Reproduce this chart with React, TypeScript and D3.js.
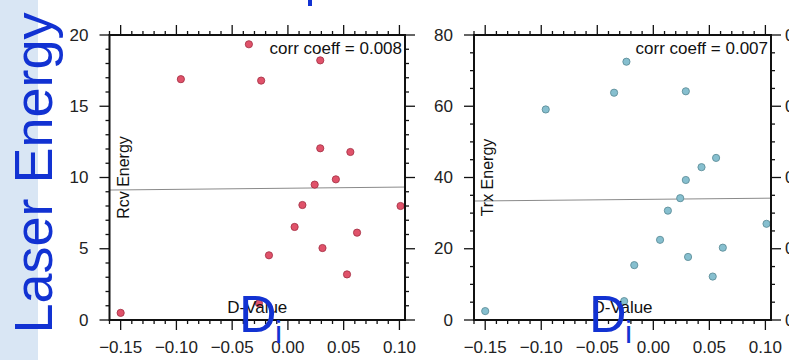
import React from 'react';
import * as d3 from 'd3';

// D-value of each sample (shared by both panels)
const dValues = [-0.15, -0.096, -0.035, -0.026, -0.024, -0.017, 0.006, 0.013, 0.024, 0.029, 0.029, 0.031, 0.043, 0.053, 0.056, 0.062, 0.101];
// receive / transmit laser energy for the same samples
const rcvEnergy = [0.5, 16.9, 19.35, 1.17, 16.8, 4.54, 6.53, 8.07, 9.5, 18.22, 12.05, 5.05, 9.87, 3.2, 11.79, 6.13, 8.0];
const trxEnergy = [2.5, 59.1, 63.8, 5.3, 72.5, 15.4, 22.5, 30.7, 34.2, 64.2, 39.3, 17.7, 42.9, 12.2, 45.5, 20.3, 27.0];

// fitted line values at the two ends of the x range
const rcvFit = [9.12, 9.33];
const trxFit = [33.4, 34.2];

const xDomain = [-0.16, 0.105];
const xTicks = [-0.15, -0.1, -0.05, 0, 0.05, 0.1];
const rcvTicks = [0, 5, 10, 15, 20];
const trxTicks = [0, 20, 40, 60, 80];

const W = 789;
const H = 360;
const FONT = '"Liberation Sans", Arial, Helvetica, sans-serif';
const BLUE = '#1232d2';
const TOP = 35;
const BOTTOM = 320;
const MAJ = 10;
const MIN = 4;

const fmtX = d3.format('.2f');

function Panel({ left, right, values, fit, yMax, yTicks, minorStep, yLabel, corr, fill, stroke }) {
  const x = d3.scaleLinear().domain(xDomain).range([left, right]);
  const y = d3.scaleLinear().domain([0, yMax]).range([BOTTOM, TOP]);

  const minorX = d3.range(-16, 11).map(i => i / 100);
  const minorY = d3.range(0, yMax + minorStep / 2, minorStep);
  const isMajorX = v => xTicks.some(t => Math.abs(t - v) < 1e-6);
  const isMajorY = v => yTicks.some(t => Math.abs(t - v) < 1e-6);

  return (
    <g>
      {/* fitted line */}
      <line x1={x(xDomain[0])} x2={x(xDomain[1])} y1={y(fit[0])} y2={y(fit[1])}
        stroke="#8a8a8a" strokeWidth={1} />

      {/* points */}
      {dValues.map((d, i) => (
        <circle key={i} cx={x(d)} cy={y(values[i])} r={3.6}
          fill={fill} stroke={stroke} strokeWidth={0.9} />
      ))}

      {/* ticks on all four sides, outward */}
      {minorX.map((v, i) => {
        const len = isMajorX(v) ? MAJ : MIN;
        return (
          <g key={'x' + i} stroke="#111" strokeWidth={1.3}>
            <line x1={x(v)} x2={x(v)} y1={BOTTOM} y2={BOTTOM + len} />
            <line x1={x(v)} x2={x(v)} y1={TOP} y2={TOP - len} />
          </g>
        );
      })}
      {minorY.map((v, i) => {
        const len = isMajorY(v) ? MAJ : MIN;
        return (
          <g key={'y' + i} stroke="#111" strokeWidth={1.3}>
            <line x1={left} x2={left - len} y1={y(v)} y2={y(v)} />
            <line x1={right} x2={right + len} y1={y(v)} y2={y(v)} />
          </g>
        );
      })}

      {/* frame */}
      <rect x={left} y={TOP} width={right - left} height={BOTTOM - TOP}
        fill="none" stroke="#111" strokeWidth={2} />

      {/* tick labels */}
      {xTicks.map(t => (
        <text key={'xl' + t} x={x(t)} y={353} textAnchor="middle"
          fontFamily={FONT} fontSize={17} fill="#222">{fmtX(t)}</text>
      ))}
      {yTicks.map(t => (
        <text key={'yl' + t} x={left - MAJ - 11} y={y(t)} textAnchor="end"
          dominantBaseline="central" fontFamily={FONT} fontSize={17} fill="#222">{t}</text>
      ))}

      {/* labels inside frame */}
      <text x={right - 3} y={54} textAnchor="end" fontFamily={FONT} fontSize={17} fill="#111">{corr}</text>
      <text x={(left + right) / 2} y={313} textAnchor="middle" fontFamily={FONT} fontSize={17} fill="#111">D-Value</text>
      <text transform={`translate(${left + 19},${(TOP + BOTTOM) / 2}) rotate(-90)`} textAnchor="middle"
        fontFamily={FONT} fontSize={16} fill="#111">{yLabel}</text>
    </g>
  );
}

export default function App() {
  const edgeY = d3.scaleLinear().domain([0, 80]).range([BOTTOM, TOP]);
  return (
    <svg width={W} height={H} viewBox={`0 0 ${W} ${H}`}
      style={{ position: 'absolute', left: 0, top: 0, background: '#fff', display: 'block' }}>
      <rect x={0} y={0} width={W} height={H} fill="#fff" />
      {/* slide background strip */}
      <rect x={0} y={0} width={38} height={H} fill="#d9e6f4" />

      <Panel left={109.5} right={405} values={rcvEnergy} fit={rcvFit} yMax={20} yTicks={rcvTicks}
        minorStep={1} yLabel="Rcv Energy" corr="corr coeff = 0.008" fill="#e0526a" stroke="#a83448" />
      <Panel left={474} right={771} values={trxEnergy} fit={trxFit} yMax={80} yTicks={trxTicks}
        minorStep={5} yLabel="Trx Energy" corr="corr coeff = 0.007" fill="#86bfcf" stroke="#5f8f9a" />

      {/* cut-off labels of the next panel */}
      {trxTicks.map(t => (
        <text key={'edge' + t} x={785} y={edgeY(t)} dominantBaseline="central"
          fontFamily={FONT} fontSize={17} fill="#222">0</text>
      ))}

      {/* slide overlay text */}
      <line x1={310} x2={310} y1={0} y2={6} stroke={BLUE} strokeWidth={4} />
      <text transform="translate(52,173) rotate(-90)" textAnchor="middle"
        fontFamily={FONT} fontSize={54} fill={BLUE}>Laser Energy</text>
      <text x={239} y={332} fontFamily={FONT} fontSize={52} fill={BLUE}>D</text>
      <text x={275} y={343} fontFamily={FONT} fontSize={32} fill={BLUE}>i</text>
      <text x={589} y={332} fontFamily={FONT} fontSize={52} fill={BLUE}>D</text>
      <text x={625} y={343} fontFamily={FONT} fontSize={32} fill={BLUE}>i</text>
    </svg>
  );
}
